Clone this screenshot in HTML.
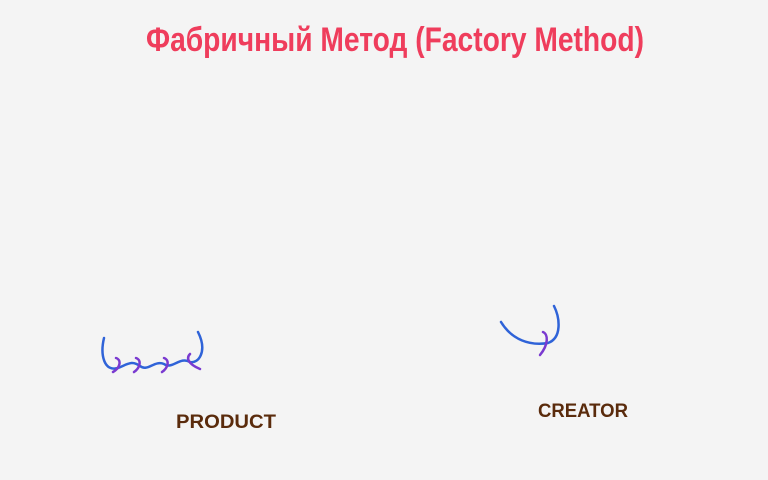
<!DOCTYPE html>
<html><head><meta charset="utf-8"><style>
html,body{margin:0;padding:0;background:#f4f4f4;}
svg{display:block}
</style></head><body>
<svg width="768" height="480" viewBox="0 0 768 480" xmlns="http://www.w3.org/2000/svg">
<rect width="768" height="480" fill="#f4f4f4"/>
<text x="146" y="51" font-family="Liberation Sans, DejaVu Sans, sans-serif" font-size="34" font-weight="bold" fill="#ef3d5c" textLength="498" lengthAdjust="spacingAndGlyphs">Фабричный Метод (Factory Method)</text>
<g fill="none" stroke-linecap="round" stroke-width="2.5">
<path d="M104 338 C100 355 104 372 118 368 C128 364 132 360 140 366 C148 372 154 360 164 364 C172 370 180 356 190 362 C198 364 208 352 198 332" stroke="#2f63d8"/>
<path d="M116 358 C122 360 120 368 113 372 M136 358 C142 360 140 368 134 372 M164 358 C170 360 168 368 162 372 M190 354 C186 358 188 364 200 369" stroke="#7a3ad0"/>
<path d="M501 322 C512 340 530 346 548 343 C562 338 560 318 554 306" stroke="#2f63d8"/>
<path d="M543 332 C548 334 549 344 540 355" stroke="#7a3ad0"/>
</g>
<text x="176" y="428" font-family="Liberation Sans, sans-serif" font-size="19" font-weight="bold" fill="#5a2b0c" textLength="100" lengthAdjust="spacingAndGlyphs">PRODUCT</text>
<text x="538" y="417" font-family="Liberation Sans, sans-serif" font-size="19" font-weight="bold" fill="#5a2b0c" textLength="90" lengthAdjust="spacingAndGlyphs">CREATOR</text>
</svg>
</body></html>
